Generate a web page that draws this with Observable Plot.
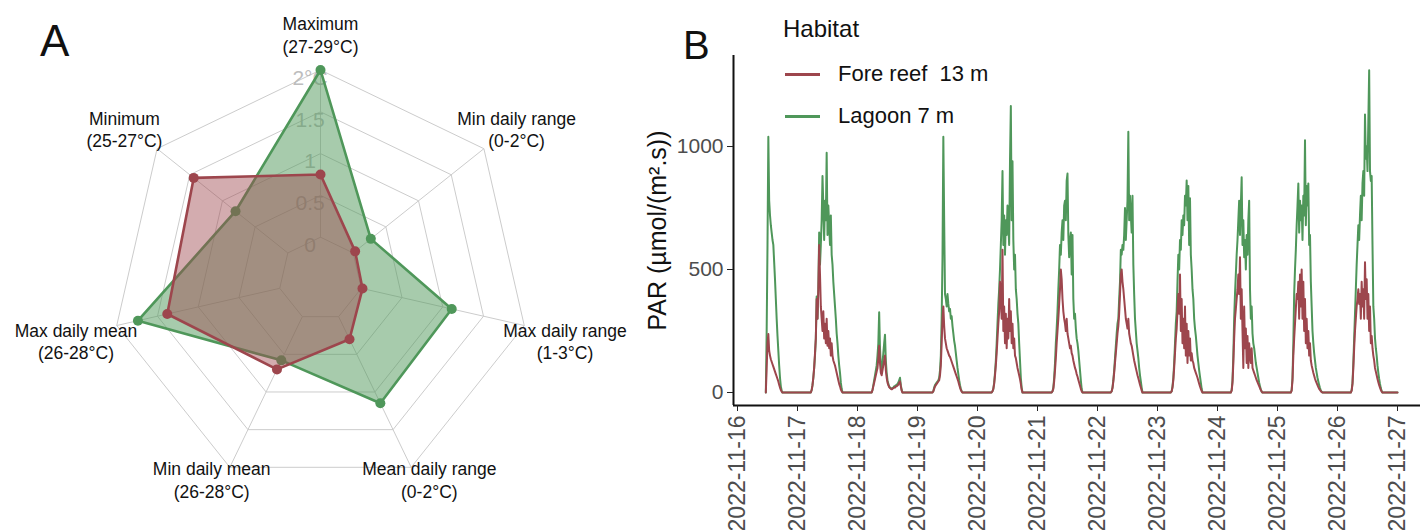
<!DOCTYPE html>
<html><head><meta charset="utf-8">
<script src="https://cdn.jsdelivr.net/npm/d3@7"></script>
<script src="https://cdn.jsdelivr.net/npm/@observablehq/plot@0.6"></script>
<style>
body{margin:0;background:#fff;font-family:"Liberation Sans",Arial,sans-serif;}
#wrap{position:relative;width:1420px;height:530px;overflow:hidden;background:#fff;}
.abs{position:absolute;line-height:1;white-space:pre;color:#111;}
.sw{position:absolute;height:3px;width:35px;}
</style></head><body>
<div id="wrap"></div>
<script>
// ---------- Panel A data (radar) ----------
const radarAxes = ["Maximum\n(27-29°C)", "Minimum\n(25-27°C)", "Max daily mean\n(26-28°C)", "Min daily mean\n(26-28°C)", "Mean daily range\n(0-2°C)", "Max daily range\n(1-3°C)", "Min daily range\n(0-2°C)"];
const lagoonRadar   = [2.00, 0.80, 1.74, 0.58, 1.15, 1.11, 0.27];
const foreReefRadar = [0.75, 1.44, 1.38, 0.70, 0.30, 0.015, 0.03];
const radarTicks = ["0", "0.5", "1", "1.5", "2°C"];
const radarMin = 0, radarMax = 2;

// ---------- Panel B data (PAR, 20-min slots from 05:20 to 18:00 local, one array per day) ----------
const days = ["2022-11-16","2022-11-17","2022-11-18","2022-11-19","2022-11-20","2022-11-21","2022-11-22","2022-11-23","2022-11-24","2022-11-25","2022-11-26"];
const dateTicks = ["2022-11-16","2022-11-17","2022-11-18","2022-11-19","2022-11-20","2022-11-21","2022-11-22","2022-11-23","2022-11-24","2022-11-25","2022-11-26","2022-11-27"];
const dataEnd = "2022-11-27";
const series = ["Fore reef  13 m", "Lagoon 7 m"];
const N = null;
const lagoon = [
 [N,N,N,N,N,N,N,N,N,N,N,N,N,N,N,N,N,N,0,250,600,1040,780,720,680,650,620,600,530,460,380,300,230,170,110,60,25,8,0],
 [0,10,30,60,100,150,220,390,300,420,650,520,600,700,880,760,620,780,700,975,640,760,680,600,720,560,520,450,400,350,300,240,200,150,110,80,40,15,0],
 [0,0,10,30,50,70,90,110,150,200,326,180,110,90,120,160,200,235,130,80,50,35,25,20,18,15,18,20,25,25,30,30,35,40,50,60,30,10,0],
 [0,0,0,5,20,30,35,40,45,50,60,90,150,300,550,1040,700,400,380,350,400,360,330,340,300,310,270,240,210,190,160,130,100,75,50,30,15,5,0],
 [0,0,5,15,40,80,130,200,280,360,420,500,600,700,900,600,720,560,700,640,760,680,600,940,1165,700,940,620,500,560,420,380,320,280,200,130,60,20,0],
 [0,0,5,20,60,120,200,260,330,420,500,600,560,650,700,620,760,780,700,860,890,640,550,620,650,480,640,380,300,320,260,220,200,170,130,90,50,15,0],
 [0,5,20,50,90,140,190,240,280,300,380,450,580,560,600,580,640,750,620,700,780,1060,700,800,720,650,800,520,400,300,250,200,170,140,100,70,45,20,0],
 [0,5,25,60,120,200,280,330,450,560,500,620,580,700,640,720,680,800,760,862,700,840,600,790,560,500,420,380,300,260,230,190,150,120,90,65,40,15,0],
 [0,10,50,150,300,400,480,560,620,700,780,640,760,875,600,700,550,620,500,640,560,700,780,420,300,350,240,200,180,150,120,100,80,60,40,25,12,4,0],
 [0,10,60,200,400,500,580,680,760,850,650,780,700,760,620,800,720,1025,680,840,760,850,600,640,450,350,250,200,160,130,100,80,60,45,30,18,8,3,0],
 [0,10,40,120,220,320,420,520,600,680,620,720,800,700,850,900,800,1130,950,1000,900,1100,1310,900,860,880,600,350,300,220,180,150,110,80,55,35,18,6,0]
];
const foreReef = [
 [N,N,N,N,N,N,N,N,N,N,N,N,N,N,N,N,N,N,0,100,200,238,170,150,135,125,115,105,95,85,75,65,55,45,32,20,10,4,0],
 [0,10,30,60,100,160,220,380,300,420,600,480,350,300,250,330,220,280,200,300,190,250,180,220,150,200,150,130,120,110,95,80,65,50,35,25,12,5,0],
 [0,0,10,25,40,55,70,85,100,140,190,120,80,70,90,110,130,150,90,60,40,30,22,18,15,13,15,18,20,20,25,25,28,32,40,45,25,8,0],
 [0,0,0,5,15,25,30,35,40,45,50,70,110,200,300,350,270,220,200,180,170,160,150,145,135,125,115,105,95,85,75,65,55,45,32,20,10,4,0],
 [0,0,5,15,35,70,110,160,220,280,330,450,380,300,580,250,350,200,320,180,300,220,380,250,330,200,280,180,220,150,140,120,100,85,70,55,35,12,0],
 [0,0,5,15,45,90,140,200,250,300,360,420,500,460,380,330,300,280,250,300,240,220,200,180,190,160,150,130,115,100,90,75,65,52,40,28,15,5,0],
 [0,5,18,45,80,120,160,200,240,270,320,400,480,500,450,420,380,340,300,280,260,300,240,220,200,190,170,150,130,115,100,85,70,58,45,32,20,8,0],
 [0,5,20,50,100,160,220,260,330,400,320,480,250,380,200,300,180,350,150,280,120,250,150,220,130,160,130,120,100,90,80,70,60,48,36,25,15,6,0],
 [0,8,40,120,220,300,340,380,420,480,400,550,300,420,250,100,350,180,260,120,230,100,200,150,120,180,100,90,80,70,60,50,42,34,26,18,10,4,0],
 [0,8,50,150,220,280,340,400,380,450,300,480,350,500,300,450,250,380,200,300,180,250,150,200,130,110,95,80,68,56,46,38,30,22,15,10,5,2,0],
 [0,8,35,100,180,250,300,350,380,420,360,400,300,450,350,420,300,530,380,460,300,400,250,350,200,230,180,150,130,100,85,70,55,42,30,20,10,4,0]
];
const yTicks = [0, 500, 1000];

const RED = "#9d464d", GREEN = "#4f975a";
const FONT = "Liberation Sans, Arial, sans-serif";
const wrap = document.getElementById("wrap");

// ---------- Panel A ----------
(function(){
  const W = 640, H = 530, cx = 320, cy = 278.5, R = 209;
  const n = radarAxes.length;
  const ang = k => k * 2 * Math.PI / n; // counter-clockwise from top
  const pt = (k, r) => ({x: -r * Math.sin(ang(k)), y: r * Math.cos(ang(k))});
  const rad = v => 0.2 + 0.8 * (v - radarMin) / (radarMax - radarMin);
  const rings = radarTicks.flatMap((t, j) => d3.range(n + 1).map(k => ({ring: j, ...pt(k % n, (j + 1) / radarTicks.length)})));
  const spokes = radarAxes.map((a, k) => ({a: pt(k, 0.2), b: pt(k, 1)}));
  const poly = vals => vals.concat([vals[0]]).map((v, k) => pt(k % n, rad(v)));
  const dots = vals => vals.map((v, k) => pt(k, rad(v)));
  const labels = radarAxes.map((t, k) => ({t, ...pt(k, 1.2), bottom: Math.cos(ang(k)) < -0.5}));
  const tickLab = radarTicks.map((t, j) => ({t, x: -0.05, y: (j + 1) / radarTicks.length}));
  const svg = Plot.plot({
    width: W, height: H, margin: 0,
    x: {domain: [-cx / R, (W - cx) / R], range: [0, W], axis: null},
    y: {domain: [(cy - H) / R, cy / R], range: [H, 0], axis: null},
    style: {background: "transparent", fontFamily: FONT, overflow: "visible"},
    marks: [
      Plot.line(rings, {x: "x", y: "y", z: "ring", stroke: "#cccccc", strokeWidth: 1}),
      Plot.link(spokes, {x1: d => d.a.x, y1: d => d.a.y, x2: d => d.b.x, y2: d => d.b.y, stroke: "#cccccc", strokeWidth: 1}),
      Plot.text(tickLab, {x: "x", y: "y", text: "t", fill: "#bdbdbd", fontSize: 21, dy: 8}),
      Plot.line(poly(lagoonRadar), {x: "x", y: "y", fill: GREEN, fillOpacity: 0.5, stroke: GREEN, strokeWidth: 2.6, strokeLinejoin: "miter"}),
      Plot.dot(dots(lagoonRadar), {x: "x", y: "y", r: 5, fill: GREEN, stroke: "none"}),
      Plot.line(poly(foreReefRadar), {x: "x", y: "y", fill: RED, fillOpacity: 0.45, stroke: RED, strokeWidth: 2.6, strokeLinejoin: "miter"}),
      Plot.dot(dots(foreReefRadar), {x: "x", y: "y", r: 5, fill: RED, stroke: "none"}),
      Plot.text(labels.filter(d => !d.bottom), {x: "x", y: "y", text: "t", fontSize: 17.5, lineHeight: 1.3, fill: "#111", dy: 6}),
      Plot.text(labels.filter(d => d.bottom), {x: "x", y: "y", text: "t", fontSize: 17.5, lineHeight: 1.3, fill: "#111", dy: -26})
    ]
  });
  svg.style.position = "absolute"; svg.style.left = "0px"; svg.style.top = "0px";
  wrap.appendChild(svg);
})();

// ---------- Panel B ----------
(function(){
  const build = arr => {
    const out = [];
    arr.forEach((vals, d) => vals.forEach((v, i) => {
      if (v != null) {
        const [Y, M, D] = days[d].split("-").map(Number);
        out.push({t: new Date(Date.UTC(Y, M - 1, D, 5, 20 + 20 * i)), v});
      }
    }));
    out.push({t: new Date(dataEnd + "T00:00Z"), v: 0});
    return out;
  };
  const g = build(lagoon), r = build(foreReef);
  const W = 780, H = 530;
  const xDom = [new Date(Date.UTC(2022, 10, 15, 22, 24)), new Date(Date.UTC(2022, 10, 27, 9, 12))];
  const yDom = [-52.8, 1370];
  const svg = Plot.plot({
    width: W, height: H,
    marginLeft: 93, marginRight: 0, marginTop: 55, marginBottom: 125,
    x: {type: "utc", domain: xDom},
    y: {domain: yDom},
    style: {background: "transparent", fontFamily: FONT, overflow: "visible"},
    marks: [
      Plot.line(g, {x: "t", y: "v", stroke: GREEN, strokeWidth: 2, strokeLinejoin: "round"}),
      Plot.line(r, {x: "t", y: "v", stroke: RED, strokeWidth: 2, strokeLinejoin: "round"}),
      Plot.ruleY([yDom[0]], {stroke: "#111", strokeWidth: 2}),
      Plot.ruleX([xDom[0]], {stroke: "#111", strokeWidth: 2}),
      Plot.axisY({ticks: yTicks, tickFormat: d => String(d), tickSize: 6, tickPadding: 4, fontSize: 21, fill: "#4d4d4d", stroke: "#222", label: null}),
      Plot.axisX({ticks: dateTicks.map(s => new Date(s + "T00:00Z")), tickFormat: d3.utcFormat("%Y-%m-%d"), tickRotate: -90, tickSize: 6, tickPadding: 4, fontSize: 23, fill: "#4d4d4d", stroke: "#222", label: null}),
      Plot.text(["PAR (µmol/(m².s))"], {frameAnchor: "left", textAnchor: "middle", rotate: -90, dx: -76, fontSize: 25, fill: "#111"})
    ]
  });
  svg.style.position = "absolute"; svg.style.left = "640px"; svg.style.top = "0px";
  wrap.appendChild(svg);
})();

// ---------- Titles & legend ----------
function addText(txt, left, top, size){
  const d = document.createElement("div");
  d.className = "abs"; d.textContent = txt;
  d.style.left = left + "px"; d.style.top = top + "px"; d.style.fontSize = size + "px";
  wrap.appendChild(d); return d;
}
addText("A", 40, 19, 44);
addText("B", 683, 25, 40);
addText("Habitat", 783, 17, 24);
[RED, GREEN].forEach((c, i) => {
  const s = document.createElement("div");
  s.className = "sw"; s.style.background = c; s.style.left = "785px"; s.style.top = (72.5 + 42 * i) + "px";
  wrap.appendChild(s);
  addText(series[i], 838, 63 + 42 * i, 22);
});
</script>
</body></html>
